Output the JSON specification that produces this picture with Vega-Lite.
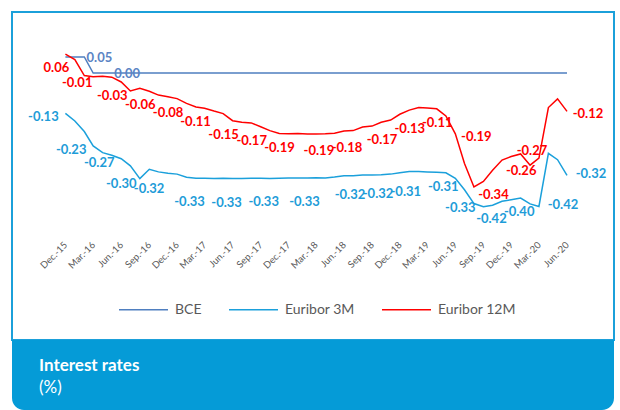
{
  "$schema": "https://vega.github.io/schema/vega-lite/v6.json",
  "width": 602,
  "height": 398,
  "autosize": {"type": "none"},
  "padding": {"left": 12, "top": 12, "right": 6, "bottom": 0},
  "background": "white",
  "config": {
    "view": {"stroke": null},
    "locale": {"number": {"decimal": ".", "thousands": ",", "grouping": [3], "currency": ["", ""], "minus": "-"}},
    "text": {"font": "Lato", "fontSize": 13, "fontWeight": "bold"},
    "axisX": {
      "offset": -170, "title": null, "domain": false, "ticks": false, "grid": false,
      "labelAngle": -45, "labelAlign": "right", "labelBaseline": "middle",
      "labelPadding": 3, "labelFont": "Lato", "labelFontSize": 9.5, "labelColor": "#595959",
      "labelOverlap": false, "labelFlush": false, "labelBound": false
    }
  },
  "title": {
    "text": "Interest rates",
    "subtitle": "(%)",
    "orient": "bottom",
    "anchor": "start",
    "offset": -52,
    "dx": 28,
    "color": "white",
    "font": "Lato",
    "fontSize": 17,
    "fontWeight": "bold",
    "subtitleColor": "white",
    "subtitleFont": "Lato",
    "subtitleFontSize": 17,
    "subtitlePadding": 5
  },
  "layer": [
    {
      "data": {"values": [{}]},
      "mark": {"type": "rect", "fill": null, "stroke": "#1BA0DA", "strokeWidth": 2},
      "encoding": {
        "y": {"datum": 0.190625, "type": "quantitative", "scale": {"domain": [-1.053125, 0.190625], "nice": false, "zero": false}, "axis": null},
        "y2": {"datum": -0.834375}
      }
    },
    {
      "data": {"values": [{}]},
      "mark": {"type": "rect", "fill": "#059BD7", "cornerRadiusBottomLeft": 12, "cornerRadiusBottomRight": 12},
      "encoding": {
        "y": {"datum": -0.834375, "type": "quantitative", "scale": {"domain": [-1.053125, 0.190625], "nice": false, "zero": false}, "axis": null},
        "y2": {"datum": -1.053125}
      }
    },
    {
      "data": {
        "format": {"parse": {"d": "date"}},
        "values": [
          {"d": "2015-12-01", "BCE": 0.05, "Euribor 3M": -0.126, "Euribor 12M": 0.059},
          {"d": "2016-01-01", "BCE": 0.05, "Euribor 3M": -0.150, "Euribor 12M": 0.042},
          {"d": "2016-02-01", "BCE": 0.05, "Euribor 3M": -0.183, "Euribor 12M": -0.008},
          {"d": "2016-03-01", "BCE": 0.0, "Euribor 3M": -0.228, "Euribor 12M": -0.012},
          {"d": "2016-04-01", "BCE": 0.0, "Euribor 3M": -0.249, "Euribor 12M": -0.010},
          {"d": "2016-05-01", "BCE": 0.0, "Euribor 3M": -0.257, "Euribor 12M": -0.013},
          {"d": "2016-06-01", "BCE": 0.0, "Euribor 3M": -0.268, "Euribor 12M": -0.028},
          {"d": "2016-07-01", "BCE": 0.0, "Euribor 3M": -0.290, "Euribor 12M": -0.056},
          {"d": "2016-08-01", "BCE": 0.0, "Euribor 3M": -0.330, "Euribor 12M": -0.048},
          {"d": "2016-09-01", "BCE": 0.0, "Euribor 3M": -0.301, "Euribor 12M": -0.057},
          {"d": "2016-10-01", "BCE": 0.0, "Euribor 3M": -0.309, "Euribor 12M": -0.069},
          {"d": "2016-11-01", "BCE": 0.0, "Euribor 3M": -0.313, "Euribor 12M": -0.074},
          {"d": "2016-12-01", "BCE": 0.0, "Euribor 3M": -0.316, "Euribor 12M": -0.080},
          {"d": "2017-01-01", "BCE": 0.0, "Euribor 3M": -0.326, "Euribor 12M": -0.095},
          {"d": "2017-02-01", "BCE": 0.0, "Euribor 3M": -0.329, "Euribor 12M": -0.106},
          {"d": "2017-03-01", "BCE": 0.0, "Euribor 3M": -0.329, "Euribor 12M": -0.110},
          {"d": "2017-04-01", "BCE": 0.0, "Euribor 3M": -0.330, "Euribor 12M": -0.119},
          {"d": "2017-05-01", "BCE": 0.0, "Euribor 3M": -0.329, "Euribor 12M": -0.127},
          {"d": "2017-06-01", "BCE": 0.0, "Euribor 3M": -0.330, "Euribor 12M": -0.149},
          {"d": "2017-07-01", "BCE": 0.0, "Euribor 3M": -0.330, "Euribor 12M": -0.154},
          {"d": "2017-08-01", "BCE": 0.0, "Euribor 3M": -0.329, "Euribor 12M": -0.156},
          {"d": "2017-09-01", "BCE": 0.0, "Euribor 3M": -0.329, "Euribor 12M": -0.168},
          {"d": "2017-10-01", "BCE": 0.0, "Euribor 3M": -0.330, "Euribor 12M": -0.180},
          {"d": "2017-11-01", "BCE": 0.0, "Euribor 3M": -0.329, "Euribor 12M": -0.189},
          {"d": "2017-12-01", "BCE": 0.0, "Euribor 3M": -0.328, "Euribor 12M": -0.190},
          {"d": "2018-01-01", "BCE": 0.0, "Euribor 3M": -0.328, "Euribor 12M": -0.189},
          {"d": "2018-02-01", "BCE": 0.0, "Euribor 3M": -0.328, "Euribor 12M": -0.191},
          {"d": "2018-03-01", "BCE": 0.0, "Euribor 3M": -0.327, "Euribor 12M": -0.191},
          {"d": "2018-04-01", "BCE": 0.0, "Euribor 3M": -0.328, "Euribor 12M": -0.190},
          {"d": "2018-05-01", "BCE": 0.0, "Euribor 3M": -0.325, "Euribor 12M": -0.188},
          {"d": "2018-06-01", "BCE": 0.0, "Euribor 3M": -0.321, "Euribor 12M": -0.181},
          {"d": "2018-07-01", "BCE": 0.0, "Euribor 3M": -0.321, "Euribor 12M": -0.180},
          {"d": "2018-08-01", "BCE": 0.0, "Euribor 3M": -0.319, "Euribor 12M": -0.169},
          {"d": "2018-09-01", "BCE": 0.0, "Euribor 3M": -0.319, "Euribor 12M": -0.166},
          {"d": "2018-10-01", "BCE": 0.0, "Euribor 3M": -0.318, "Euribor 12M": -0.154},
          {"d": "2018-11-01", "BCE": 0.0, "Euribor 3M": -0.316, "Euribor 12M": -0.147},
          {"d": "2018-12-01", "BCE": 0.0, "Euribor 3M": -0.312, "Euribor 12M": -0.129},
          {"d": "2019-01-01", "BCE": 0.0, "Euribor 3M": -0.308, "Euribor 12M": -0.116},
          {"d": "2019-02-01", "BCE": 0.0, "Euribor 3M": -0.308, "Euribor 12M": -0.108},
          {"d": "2019-03-01", "BCE": 0.0, "Euribor 3M": -0.309, "Euribor 12M": -0.109},
          {"d": "2019-04-01", "BCE": 0.0, "Euribor 3M": -0.310, "Euribor 12M": -0.112},
          {"d": "2019-05-01", "BCE": 0.0, "Euribor 3M": -0.312, "Euribor 12M": -0.134},
          {"d": "2019-06-01", "BCE": 0.0, "Euribor 3M": -0.329, "Euribor 12M": -0.190},
          {"d": "2019-07-01", "BCE": 0.0, "Euribor 3M": -0.365, "Euribor 12M": -0.283},
          {"d": "2019-08-01", "BCE": 0.0, "Euribor 3M": -0.408, "Euribor 12M": -0.356},
          {"d": "2019-09-01", "BCE": 0.0, "Euribor 3M": -0.418, "Euribor 12M": -0.339},
          {"d": "2019-10-01", "BCE": 0.0, "Euribor 3M": -0.413, "Euribor 12M": -0.304},
          {"d": "2019-11-01", "BCE": 0.0, "Euribor 3M": -0.401, "Euribor 12M": -0.272},
          {"d": "2019-12-01", "BCE": 0.0, "Euribor 3M": -0.396, "Euribor 12M": -0.261},
          {"d": "2020-01-01", "BCE": 0.0, "Euribor 3M": -0.391, "Euribor 12M": -0.253},
          {"d": "2020-02-01", "BCE": 0.0, "Euribor 3M": -0.409, "Euribor 12M": -0.288},
          {"d": "2020-03-01", "BCE": 0.0, "Euribor 3M": -0.417, "Euribor 12M": -0.266},
          {"d": "2020-04-01", "BCE": 0.0, "Euribor 3M": -0.251, "Euribor 12M": -0.108},
          {"d": "2020-05-01", "BCE": 0.0, "Euribor 3M": -0.271, "Euribor 12M": -0.081},
          {"d": "2020-06-01", "BCE": 0.0, "Euribor 3M": -0.320, "Euribor 12M": -0.120}
        ]
      },
      "encoding": {
        "x": {
          "field": "d", "type": "temporal", "title": null,
          "scale": {"type": "utc", "domain": [{"year": 2015, "month": 6, "date": 9, "utc": true}, {"year": 2020, "month": 11, "date": 2, "utc": true}]},
          "axis": {
            "format": "%b.-%y", "labelOverlap": false,
            "values": [
              {"year": 2015, "month": 12, "date": 1, "utc": true},
              {"year": 2016, "month": 3, "date": 1, "utc": true},
              {"year": 2016, "month": 6, "date": 1, "utc": true},
              {"year": 2016, "month": 9, "date": 1, "utc": true},
              {"year": 2016, "month": 12, "date": 1, "utc": true},
              {"year": 2017, "month": 3, "date": 1, "utc": true},
              {"year": 2017, "month": 6, "date": 1, "utc": true},
              {"year": 2017, "month": 9, "date": 1, "utc": true},
              {"year": 2017, "month": 12, "date": 1, "utc": true},
              {"year": 2018, "month": 3, "date": 1, "utc": true},
              {"year": 2018, "month": 6, "date": 1, "utc": true},
              {"year": 2018, "month": 9, "date": 1, "utc": true},
              {"year": 2018, "month": 12, "date": 1, "utc": true},
              {"year": 2019, "month": 3, "date": 1, "utc": true},
              {"year": 2019, "month": 6, "date": 1, "utc": true},
              {"year": 2019, "month": 9, "date": 1, "utc": true},
              {"year": 2019, "month": 12, "date": 1, "utc": true},
              {"year": 2020, "month": 3, "date": 1, "utc": true},
              {"year": 2020, "month": 6, "date": 1, "utc": true}
            ]
          }
        }
      },
      "layer": [
        {
          "transform": [{"fold": ["BCE", "Euribor 3M", "Euribor 12M"], "as": ["s", "v"]}],
          "mark": {"type": "line", "strokeWidth": 1.5},
          "encoding": {
            "y": {"field": "v", "type": "quantitative", "scale": {"domain": [-1.053125, 0.190625], "nice": false, "zero": false}, "axis": null},
            "color": {
              "field": "s", "type": "nominal",
              "scale": {"domain": ["BCE", "Euribor 3M", "Euribor 12M"], "range": ["#4F7FC0", "#1BA0DB", "#FF0000"]},
              "legend": {
                "orient": "none", "legendX": 106, "legendY": 272, "direction": "horizontal", "title": null,
                "symbolType": "stroke", "symbolSize": 2401, "symbolStrokeWidth": 1.5,
                "labelFont": "Lato", "labelFontSize": 14, "labelColor": "#595959", "labelOffset": 6,
                "columnPadding": 24, "padding": 0
              }
            }
          }
        },
        {
          "transform": [{"filter": "indexof([0,3], (utcyear(datum.d)-2015)*12+utcmonth(datum.d)-11) >= 0"}],
          "mark": {"type": "text", "color": "#5B84C4", "dx": 34, "dy": 1},
          "encoding": {
            "y": {"field": "BCE", "type": "quantitative"},
            "text": {"field": "BCE", "type": "quantitative", "format": ".2f"}
          }
        },
        {
          "transform": [{"filter": "indexof([0,6,9,12,15,18,21,24], (utcyear(datum.d)-2015)*12+utcmonth(datum.d)-11) >= 0"}],
          "mark": {"type": "text", "color": "#FF0000", "dx": -9, "dy": 14},
          "encoding": {
            "y": {"field": "Euribor 12M", "type": "quantitative"},
            "text": {"field": "Euribor 12M", "type": "quantitative", "format": ".2f"}
          }
        },
        {
          "transform": [{"filter": "indexof([3], (utcyear(datum.d)-2015)*12+utcmonth(datum.d)-11) >= 0"}],
          "mark": {"type": "text", "color": "#FF0000", "dx": -16, "dy": 6},
          "encoding": {
            "y": {"field": "Euribor 12M", "type": "quantitative"},
            "text": {"field": "Euribor 12M", "type": "quantitative", "format": ".2f"}
          }
        },
        {
          "transform": [{"filter": "indexof([27,30], (utcyear(datum.d)-2015)*12+utcmonth(datum.d)-11) >= 0"}],
          "mark": {"type": "text", "color": "#FF0000", "dx": 3, "dy": 17},
          "encoding": {
            "y": {"field": "Euribor 12M", "type": "quantitative"},
            "text": {"field": "Euribor 12M", "type": "quantitative", "format": ".2f"}
          }
        },
        {
          "transform": [{"filter": "indexof([36,39], (utcyear(datum.d)-2015)*12+utcmonth(datum.d)-11) >= 0"}],
          "mark": {"type": "text", "color": "#FF0000", "dx": 10, "dy": 15},
          "encoding": {
            "y": {"field": "Euribor 12M", "type": "quantitative"},
            "text": {"field": "Euribor 12M", "type": "quantitative", "format": ".2f"}
          }
        },
        {
          "transform": [{"filter": "indexof([33,45,48], (utcyear(datum.d)-2015)*12+utcmonth(datum.d)-11) >= 0"}],
          "mark": {"type": "text", "color": "#FF0000", "dx": 10, "dy": 14},
          "encoding": {
            "y": {"field": "Euribor 12M", "type": "quantitative"},
            "text": {"field": "Euribor 12M", "type": "quantitative", "format": ".2f"}
          }
        },
        {
          "transform": [{"filter": "indexof([42,54], (utcyear(datum.d)-2015)*12+utcmonth(datum.d)-11) >= 0"}],
          "mark": {"type": "text", "color": "#FF0000", "dx": 21, "dy": 3},
          "encoding": {
            "y": {"field": "Euribor 12M", "type": "quantitative"},
            "text": {"field": "Euribor 12M", "type": "quantitative", "format": ".2f"}
          }
        },
        {
          "transform": [{"filter": "indexof([51], (utcyear(datum.d)-2015)*12+utcmonth(datum.d)-11) >= 0"}],
          "mark": {"type": "text", "color": "#FF0000", "dx": -7, "dy": -7},
          "encoding": {
            "y": {"field": "Euribor 12M", "type": "quantitative"},
            "text": {"field": "Euribor 12M", "type": "quantitative", "format": ".2f"}
          }
        },
        {
          "transform": [{"filter": "indexof([0,3,6], (utcyear(datum.d)-2015)*12+utcmonth(datum.d)-11) >= 0"}],
          "mark": {"type": "text", "color": "#1E9CD8", "dx": -22, "dy": 4},
          "encoding": {
            "y": {"field": "Euribor 3M", "type": "quantitative"},
            "text": {"field": "Euribor 3M", "type": "quantitative", "format": ".2f"}
          }
        },
        {
          "transform": [{"filter": "indexof([9,12], (utcyear(datum.d)-2015)*12+utcmonth(datum.d)-11) >= 0"}],
          "mark": {"type": "text", "color": "#1E9CD8", "dx": -28, "dy": 15},
          "encoding": {
            "y": {"field": "Euribor 3M", "type": "quantitative"},
            "text": {"field": "Euribor 3M", "type": "quantitative", "format": ".2f"}
          }
        },
        {
          "transform": [{"filter": "indexof([15], (utcyear(datum.d)-2015)*12+utcmonth(datum.d)-11) >= 0"}],
          "mark": {"type": "text", "color": "#1E9CD8", "dx": -15, "dy": 24},
          "encoding": {
            "y": {"field": "Euribor 3M", "type": "quantitative"},
            "text": {"field": "Euribor 3M", "type": "quantitative", "format": ".2f"}
          }
        },
        {
          "transform": [{"filter": "indexof([18], (utcyear(datum.d)-2015)*12+utcmonth(datum.d)-11) >= 0"}],
          "mark": {"type": "text", "color": "#1E9CD8", "dx": -6, "dy": 24},
          "encoding": {
            "y": {"field": "Euribor 3M", "type": "quantitative"},
            "text": {"field": "Euribor 3M", "type": "quantitative", "format": ".2f"}
          }
        },
        {
          "transform": [{"filter": "indexof([21], (utcyear(datum.d)-2015)*12+utcmonth(datum.d)-11) >= 0"}],
          "mark": {"type": "text", "color": "#1E9CD8", "dx": 3, "dy": 24},
          "encoding": {
            "y": {"field": "Euribor 3M", "type": "quantitative"},
            "text": {"field": "Euribor 3M", "type": "quantitative", "format": ".2f"}
          }
        },
        {
          "transform": [{"filter": "indexof([24], (utcyear(datum.d)-2015)*12+utcmonth(datum.d)-11) >= 0"}],
          "mark": {"type": "text", "color": "#1E9CD8", "dx": 16, "dy": 24},
          "encoding": {
            "y": {"field": "Euribor 3M", "type": "quantitative"},
            "text": {"field": "Euribor 3M", "type": "quantitative", "format": ".2f"}
          }
        },
        {
          "transform": [{"filter": "indexof([30,33,36], (utcyear(datum.d)-2015)*12+utcmonth(datum.d)-11) >= 0"}],
          "mark": {"type": "text", "color": "#1E9CD8", "dx": 6, "dy": 19},
          "encoding": {
            "y": {"field": "Euribor 3M", "type": "quantitative"},
            "text": {"field": "Euribor 3M", "type": "quantitative", "format": ".2f"}
          }
        },
        {
          "transform": [{"filter": "indexof([39], (utcyear(datum.d)-2015)*12+utcmonth(datum.d)-11) >= 0"}],
          "mark": {"type": "text", "color": "#1E9CD8", "dx": 16, "dy": 15},
          "encoding": {
            "y": {"field": "Euribor 3M", "type": "quantitative"},
            "text": {"field": "Euribor 3M", "type": "quantitative", "format": ".2f"}
          }
        },
        {
          "transform": [{"filter": "indexof([42], (utcyear(datum.d)-2015)*12+utcmonth(datum.d)-11) >= 0"}],
          "mark": {"type": "text", "color": "#1E9CD8", "dx": 5, "dy": 30},
          "encoding": {
            "y": {"field": "Euribor 3M", "type": "quantitative"},
            "text": {"field": "Euribor 3M", "type": "quantitative", "format": ".2f"}
          }
        },
        {
          "transform": [{"filter": "indexof([45,48], (utcyear(datum.d)-2015)*12+utcmonth(datum.d)-11) >= 0"}],
          "mark": {"type": "text", "color": "#1E9CD8", "dx": 8, "dy": 12},
          "encoding": {
            "y": {"field": "Euribor 3M", "type": "quantitative"},
            "text": {"field": "Euribor 3M", "type": "quantitative", "format": ".2f"}
          }
        },
        {
          "transform": [{"filter": "indexof([51,54], (utcyear(datum.d)-2015)*12+utcmonth(datum.d)-11) >= 0"}],
          "mark": {"type": "text", "color": "#1E9CD8", "dx": 24, "dy": -1},
          "encoding": {
            "y": {"field": "Euribor 3M", "type": "quantitative"},
            "text": {"field": "Euribor 3M", "type": "quantitative", "format": ".2f"}
          }
        }
      ]
    }
  ]
}
